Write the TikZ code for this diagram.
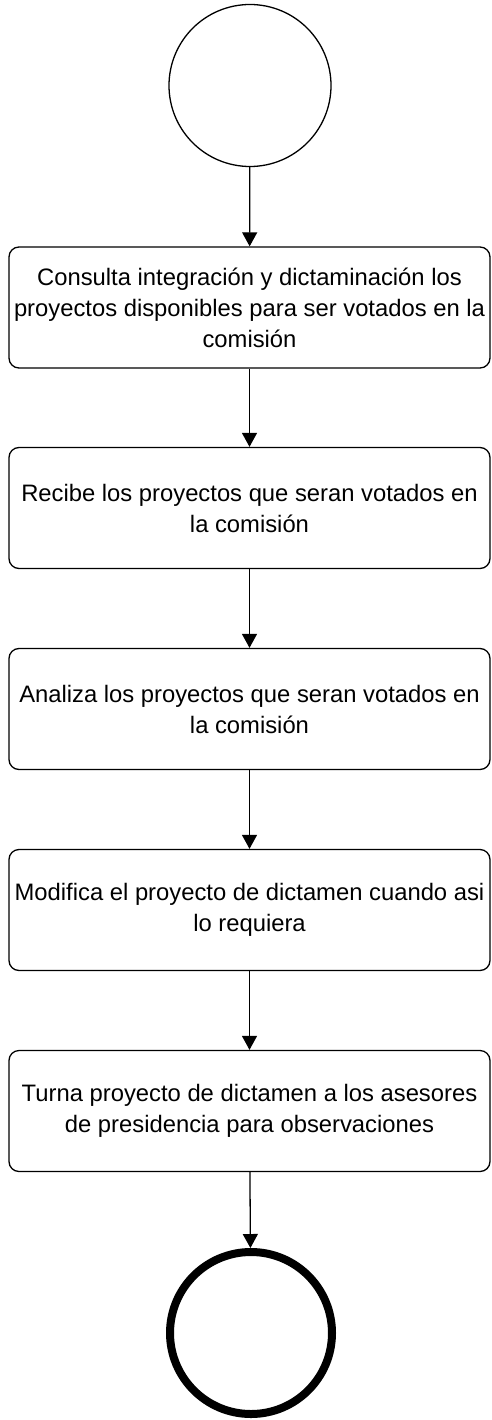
\documentclass[tikz,border=0pt]{standalone}
\usepackage{fontspec}
\setmainfont{Liberation Sans}
\usetikzlibrary{arrows.meta}
\begin{document}
\begin{tikzpicture}[x=1pt,y=1pt,
  stepbox/.style={draw, rounded corners=10pt, line width=1.3pt, minimum width=481pt, minimum height=121pt, align=center, font=\fontsize{23.8}{31}\selectfont, inner sep=0pt},
  startc/.style={draw, circle, line width=1.3pt, minimum size=162pt, inner sep=0pt},
  endc/.style={draw, circle, line width=8pt, minimum size=162pt, inner sep=0pt},
  arr/.style={-{Triangle[length=14pt,width=15pt]}, line width=1.3pt}]
\fill[white] (0,0) rectangle (491,-1420);
\useasboundingbox (0,0) rectangle (491,-1420);
\node[startc] (s) at (250,-85.5) {};
\node[stepbox] (b1) at (249.5,-307.5) {Consulta integración y dictaminación los\\proyectos disponibles para ser votados en la\\comisión};
\node[stepbox] (b2) at (249.5,-508) {Recibe los proyectos que seran votados en\\la comisión};
\node[stepbox] (b3) at (249.5,-709) {Analiza los proyectos que seran votados en\\la comisión};
\node[stepbox] (b4) at (249.5,-910) {Modifica el proyecto de dictamen cuando asi\\lo requiera};
\node[stepbox] (b5) at (249.5,-1111) {Turna proyecto de dictamen a los asesores\\de presidencia para observaciones};
\node[endc] (e) at (251,-1333) {};
\draw[arr] (s) -- (b1);
\draw[arr] (b1) -- (b2);
\draw[arr] (b2) -- (b3);
\draw[arr] (b3) -- (b4);
\draw[arr] (b4) -- (b5);
\draw[arr] (b5) -- (e);
\end{tikzpicture}
\end{document}
